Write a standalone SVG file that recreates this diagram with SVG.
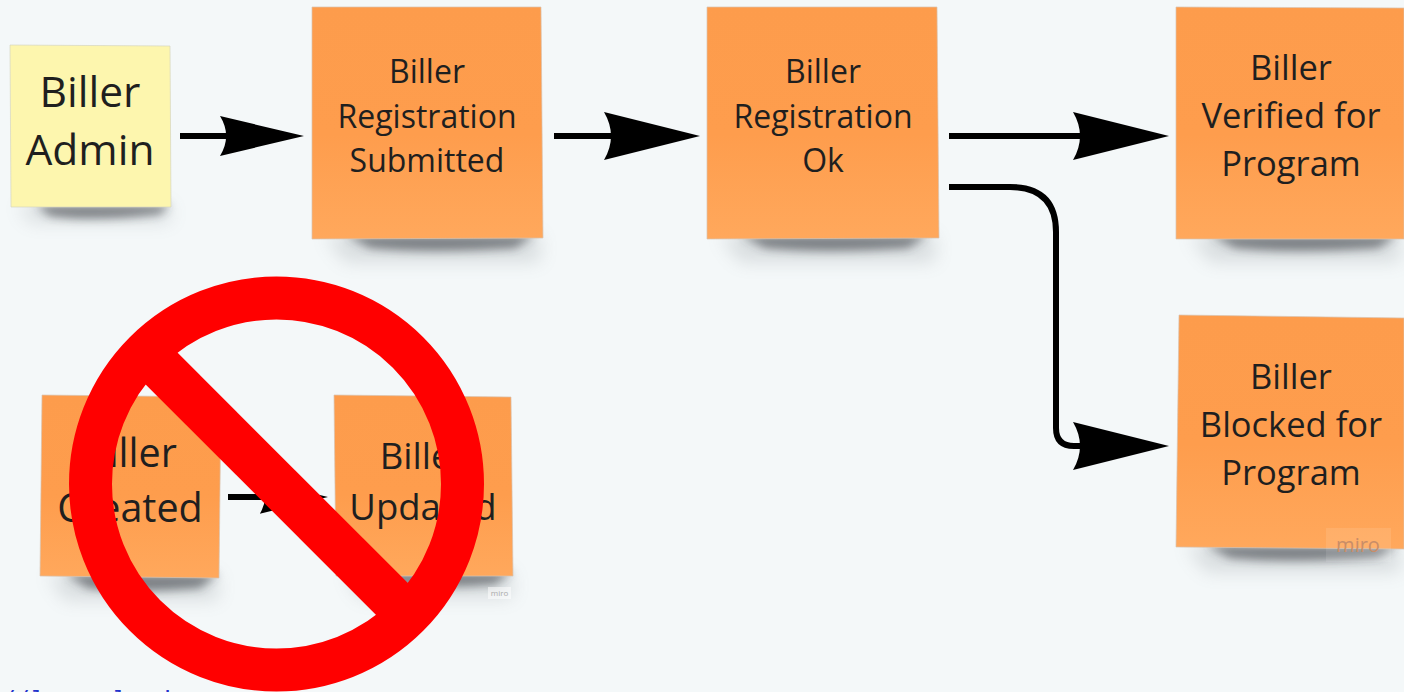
<svg xmlns="http://www.w3.org/2000/svg" width="1404" height="692" viewBox="0 0 1404 692">
<defs>
<linearGradient id="o" x1="0" y1="0" x2="0" y2="1"><stop offset="0" stop-color="#fd9c4c"/><stop offset="0.55" stop-color="#fe9d4d"/><stop offset="1" stop-color="#ffa85c"/></linearGradient>
<filter id="b" x="-30%" y="-150%" width="160%" height="400%"><feGaussianBlur stdDeviation="5"/></filter>
<filter id="w" x="-30%" y="-150%" width="160%" height="400%"><feGaussianBlur stdDeviation="9"/></filter>
<path id="head" d="M-96 -24 L0 0 L-96 24 Q-82 0 -96 -24 Z" fill="#000"/>
</defs>
<style>
.s{fill:url(#o);stroke:#d9c3b0;stroke-width:.7}
.sh{fill:#2e3338;opacity:.55;filter:url(#b)}
.h{fill:#6a7278;opacity:.2;filter:url(#w)}
.t{font-family:"Open Sans","Noto Sans",sans-serif;fill:#1f1f1f;text-anchor:middle}
.c{fill:none;stroke:#000;stroke-width:6}
</style>
<rect width="1404" height="692" fill="#f4f8f9"/>
<g id="shadows">
<path class="h" d="M18 205H170V222H30Z"/>
<path class="sh" d="M36 205H170L160 214Q95 222 50 216Z"/>
<path class="h" d="M325 235H540V262H345Z"/>
<path class="sh" d="M345 235H535L515 248Q430 254 370 248Z"/>
<path class="h" d="M720 235H935V262H740Z"/>
<path class="sh" d="M740 235H928L908 248Q825 254 765 248Z"/>
<path class="h" d="M1190 235H1400V262H1210Z"/>
<path class="sh" d="M1210 235H1398L1378 248Q1295 254 1235 248Z"/>
<path class="h" d="M1186 545H1400V572H1206Z"/>
<path class="sh" d="M1205 545H1398L1378 557Q1295 564 1230 558Z"/>
<path class="h" d="M48 574H218V600H65Z"/>
<path class="sh" d="M65 574H218L200 588Q135 594 88 588Z"/>
<path class="h" d="M345 572H512V598H360Z"/>
<path class="sh" d="M360 572H512L495 584Q440 590 385 584Z"/>
</g>
<g id="biller-admin"><path d="M10 45L170 46L171 207L11 207Z" fill="#fdf6ae" stroke="#d5d5c0" stroke-width=".7"/><text class="t" font-size="42.5"><tspan x="90" y="107">Biller</tspan><tspan x="90" y="165">Admin</tspan></text></g>
<g id="registration-submitted"><path class="s" d="M312 7L541 7L543 238L312 239Z"/><text class="t" font-size="32"><tspan x="427" y="83">Biller</tspan><tspan x="427" y="128">Registration</tspan><tspan x="427" y="172">Submitted</tspan></text></g>
<g id="registration-ok"><path class="s" d="M707 7L937 7L939 238L707 239Z"/><text class="t" font-size="32"><tspan x="823" y="83">Biller</tspan><tspan x="823" y="128">Registration</tspan><tspan x="823" y="172">Ok</tspan></text></g>
<g id="verified"><path class="s" d="M1176 7L1404 8L1404 239L1176 239Z"/><text class="t" font-size="34.5"><tspan x="1291" y="80">Biller</tspan><tspan x="1291" y="128">Verified for</tspan><tspan x="1291" y="176">Program</tspan></text></g>
<g id="blocked"><path class="s" d="M1179 315L1404 318L1404 549L1176 547Z"/><text class="t" font-size="34.5"><tspan x="1291" y="389">Biller</tspan><tspan x="1291" y="437">Blocked for</tspan><tspan x="1291" y="485">Program</tspan></text><rect x="1326" y="528" width="65" height="34" fill="#fff" opacity=".1"/><text x="1358" y="552" font-family="Open Sans,sans-serif" font-size="20" fill="#c98d68" text-anchor="middle">miro</text></g>
<g id="biller-created"><path class="s" d="M42 395L221 397L219 578L40 576Z"/><text class="t" font-size="39.5"><tspan x="130" y="467">Biller</tspan><tspan x="130" y="522">Created</tspan></text></g>
<g id="biller-updated"><path class="s" d="M334 395L511 397L513 576L336 576Z"/><text class="t" font-size="36.5"><tspan x="423" y="469">Biller</tspan><tspan x="423" y="520">Updated</tspan></text></g>
<g id="connectors">
<path class="c" d="M180 136H235"/><use href="#head" transform="translate(304 136) scale(.875 .83)"/>
<path class="c" d="M554 136H620"/><use href="#head" transform="translate(700 136)"/>
<path class="c" d="M949 136H1085"/><use href="#head" transform="translate(1169 136)"/>
<path class="c" d="M949 187H1010Q1056 187 1056 232V428Q1056 446 1074 446H1090"/><use href="#head" transform="translate(1169 446)"/>
<path class="c" d="M228 497H270" stroke-width="5"/><use href="#head" transform="translate(328 497) scale(.71 .7)"/>
</g>
<g id="miro-small"><rect x="488" y="587" width="23" height="12" fill="#fff" opacity=".5"/><text x="499.500" y="596" font-family="Open Sans,sans-serif" font-size="8" fill="#aaa" text-anchor="middle">miro</text></g>
<g id="prohibited" fill="none" stroke="#f00">
<circle cx="276.500" cy="484" r="186" stroke-width="43"/>
<path d="M148 355L405 612" stroke-width="45"/>
</g>
<text x="1 15 30 112 160" y="708" font-family="Liberation Mono,monospace" font-size="24" fill="#2233cc">//lli</text>
</svg>
